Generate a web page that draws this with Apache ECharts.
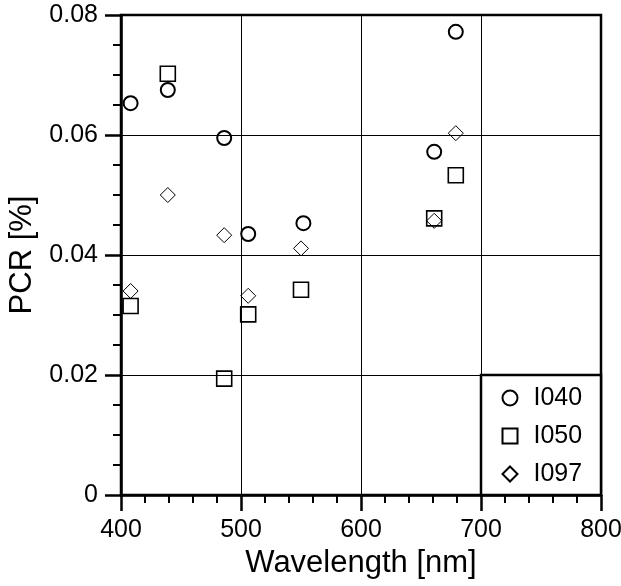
<!DOCTYPE html>
<html>
<head>
<meta charset="utf-8">
<title>PCR vs Wavelength</title>
<script src="https://cdn.jsdelivr.net/npm/echarts@6/dist/echarts.min.js"></script>
<style>
  html, body { margin: 0; padding: 0; background: #fff; }
  #chart { width: 621px; height: 586px; }
</style>
</head>
<body>
<div id="chart"></div>
<script>
// Wavelength (nm) and PCR (%) for each sample
const seriesNames = ['I040', 'I050', 'I097'];
const wlI040 = [408, 439, 486, 506, 552, 661, 679];
const pcrI040 = [0.0653, 0.0675, 0.0595, 0.0435, 0.0453, 0.0572, 0.0772];
const wlI050 = [408, 439, 486, 506, 550, 661, 679];
const pcrI050 = [0.0315, 0.0702, 0.0194, 0.0301, 0.0342, 0.0461, 0.0533];
const wlI097 = [408, 439, 486, 506, 550, 661, 679];
const pcrI097 = [0.0340, 0.0500, 0.0433, 0.0332, 0.0411, 0.0457, 0.0603];

const xTicks = [400, 500, 600, 700, 800];
const yTicks = [0, 0.02, 0.04, 0.06, 0.08];

const FONT = '"Liberation Sans", Arial, Helvetica, sans-serif';

function pairs(xs, ys) {
  return xs.map((x, i) => [x, ys[i]]);
}

const chart = echarts.init(document.getElementById('chart'), null, { renderer: 'canvas' });

const axisCommon = {
  axisLine: { show: true, onZero: false, lineStyle: { color: '#000', width: 2.5 } },
  axisTick: { show: true, inside: false, length: 16, lineStyle: { color: '#000', width: 2.5 } },
  minorTick: { show: true, length: 8, lineStyle: { color: '#000', width: 2 } },
  splitLine: { show: true, lineStyle: { color: '#000', width: 1 } },
  axisLabel: { color: '#000', fontSize: 25, fontFamily: FONT, margin: 23 },
  nameTextStyle: { color: '#000', fontSize: 31, fontFamily: FONT }
};

const option = {
  backgroundColor: '#fff',
  animation: false,
  grid: {
    left: 121, right: 20, top: 15, bottom: 91,
    containLabel: false, outerBoundsMode: 'none',
    show: true, borderColor: '#000', borderWidth: 2.5, backgroundColor: 'transparent'
  },
  xAxis: Object.assign({}, axisCommon, {
    type: 'value',
    min: xTicks[0], max: xTicks[xTicks.length - 1], interval: 100,
    minorTick: Object.assign({}, axisCommon.minorTick, { splitNumber: 5 }),
    name: 'Wavelength [nm]', nameLocation: 'middle', nameGap: 51
  }),
  yAxis: Object.assign({}, axisCommon, {
    type: 'value',
    min: yTicks[0], max: yTicks[yTicks.length - 1], interval: 0.02,
    minorTick: Object.assign({}, axisCommon.minorTick, { splitNumber: 4 }),
    axisLabel: Object.assign({}, axisCommon.axisLabel, {
      formatter: v => (v === 0 ? '0' : v.toFixed(2))
    }),
    name: 'PCR [%]', nameLocation: 'middle', nameRotate: 90, nameGap: 82
  }),
  legend: {
    orient: 'vertical',
    left: 501.5, top: 385.5,
    padding: 0,
    itemWidth: 15, itemHeight: 15, itemGap: 13,
    symbolKeepAspect: true,
    z: 100,
    textStyle: { color: '#000', fontSize: 25, fontFamily: FONT, padding: [0, 0, 0, 11] },
    data: seriesNames
  },
  series: [
    {
      name: seriesNames[0], type: 'scatter', symbol: 'circle', symbolSize: 14,
      itemStyle: { color: 'rgba(255,255,255,0)', borderColor: '#000', borderWidth: 2, opacity: 1 },
      data: pairs(wlI040, pcrI040), z: 10
    },
    {
      name: seriesNames[1], type: 'scatter', symbol: 'rect', symbolSize: 15,
      itemStyle: { color: 'rgba(255,255,255,0)', borderColor: '#000', borderWidth: 1.6, opacity: 1 },
      data: pairs(wlI050, pcrI050), z: 10
    },
    {
      name: seriesNames[2], type: 'scatter', symbol: 'diamond', symbolSize: 15,
      itemStyle: { color: 'rgba(255,255,255,0)', borderColor: '#000', borderWidth: 1, opacity: 1 },
      data: pairs(wlI097, pcrI097), z: 10
    }
  ]
};

chart.setOption(option);

// White legend panel filling the lower-right grid cell (700–800 nm, 0–0.02 %)
const p0 = chart.convertToPixel({ gridIndex: 0 }, [700, 0.02]);
const p1 = chart.convertToPixel({ gridIndex: 0 }, [800, 0]);
chart.setOption({
  graphic: [{
    type: 'rect',
    z: 50,
    shape: { x: p0[0], y: p0[1], width: p1[0] - p0[0], height: p1[1] - p0[1] },
    style: { fill: '#fff', stroke: '#000', lineWidth: 2.5 }
  }]
});
</script>
</body>
</html>
